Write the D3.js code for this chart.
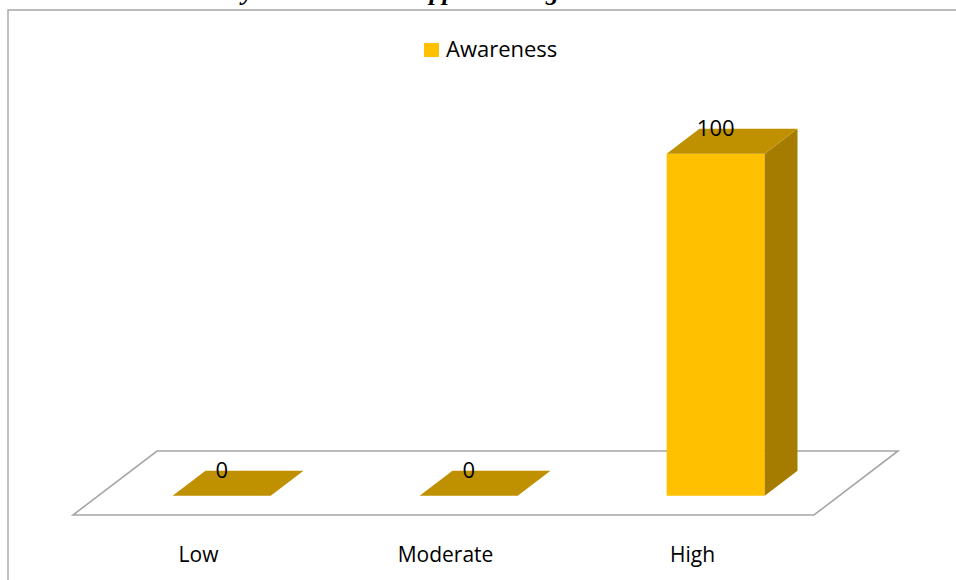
<!DOCTYPE html>
<html>
<head>
<meta charset="utf-8">
<script src="https://cdn.jsdelivr.net/npm/d3@7/dist/d3.min.js"></script>
<style>
  html, body { margin: 0; padding: 0; background: #ffffff; }
  svg { display: block; }
</style>
</head>
<body>
<svg id="chart" width="956" height="580"></svg>
<script>
// Awareness level by category
const categories = ["Low", "Moderate", "High"];
const awareness = [0, 0, 100];
const seriesName = "Awareness";
const titleText = "Study Awareness on Apps Sharing";

const W = 956, H = 580;
const svg = d3.select("#chart");

const colors = {
  front: "#FFC000",
  top: "#BF9000",
  side: "#A57C00",
  floor: "#A6A6A6",
  frame: "#A6A6A6"
};

// Floor geometry (front edge and depth offset of the 3D floor)
const floorFrontY = 515;
const floorLeft = 73, floorRight = 814;
const depthDX = 84, depthDY = -64;
const barDepthFront = 0.3, barDepthBack = 0.69;

const x = d3.scaleBand().domain(categories).range([floorLeft, floorRight]).padding(0);
const barWidth = x.bandwidth() * 0.397;
const h = d3.scaleLinear().domain([0, 100]).range([0, 342]);

// project floor x, value and depth fraction to screen coordinates
function proj(px, v, d) {
  return [px + d * depthDX, floorFrontY + d * depthDY - h(v)];
}

// Title line (runs above the top edge of the page)
const title = svg.append("text")
  .attr("y", 0)
  .attr("font-family", "Liberation Serif, Times New Roman, serif")
  .attr("font-style", "italic")
  .attr("font-weight", "bold")
  .attr("font-size", 26)
  .attr("fill", "#000")
  .text(titleText);
const yIdx = titleText.indexOf("y");
const yPos = title.node().getStartPositionOfChar(yIdx).x;
title.attr("x", 242 - yPos);

// Frame
svg.append("path")
  .attr("d", `M8,${H + 2} L8,10 L${W + 2},10`)
  .attr("fill", "none")
  .attr("stroke", colors.frame)
  .attr("stroke-width", 1.4);

// Floor
const fl = [
  [floorLeft, floorFrontY],
  [floorRight, floorFrontY],
  [floorRight + depthDX, floorFrontY + depthDY],
  [floorLeft + depthDX, floorFrontY + depthDY]
];
svg.append("path")
  .attr("d", d3.line()(fl) + "Z")
  .attr("fill", "#ffffff")
  .attr("stroke", colors.floor)
  .attr("stroke-width", 1.6);

// Bars
const data = categories.map((c, i) => ({ c, v: awareness[i] }));
const bars = svg.append("g").selectAll("g").data(data).join("g");

bars.each(function (d) {
  const g = d3.select(this);
  const x0 = x(d.c) + (x.bandwidth() - barWidth) / 2;
  const x1 = x0 + barWidth;
  const line = d3.line();
  if (d.v > 0) {
    // front face
    g.append("path")
      .attr("d", line([proj(x0, 0, barDepthFront), proj(x1, 0, barDepthFront),
                       proj(x1, d.v, barDepthFront), proj(x0, d.v, barDepthFront)]) + "Z")
      .attr("fill", colors.front);
    // right side face
    g.append("path")
      .attr("d", line([proj(x1, 0, barDepthFront), proj(x1, 0, barDepthBack),
                       proj(x1, d.v, barDepthBack), proj(x1, d.v, barDepthFront)]) + "Z")
      .attr("fill", colors.side);
  }
  // top face
  g.append("path")
    .attr("d", line([proj(x0, d.v, barDepthFront), proj(x1, d.v, barDepthFront),
                     proj(x1, d.v, barDepthBack), proj(x0, d.v, barDepthBack)]) + "Z")
    .attr("fill", colors.top);
});

// Value labels
bars.append("text")
  .attr("x", d => proj(x(d.c) + x.bandwidth() / 2, d.v, barDepthFront)[0])
  .attr("y", d => proj(0, d.v, barDepthBack)[1] + 7)
  .attr("text-anchor", "middle")
  .attr("font-family", "Open Sans, sans-serif")
  .attr("font-size", 22)
  .attr("fill", "#000")
  .text(d => d.v);

// Category labels
svg.append("g").selectAll("text").data(categories).join("text")
  .attr("x", d => x(d) + x.bandwidth() / 2 + 2)
  .attr("y", 562)
  .attr("text-anchor", "middle")
  .attr("font-family", "Open Sans, sans-serif")
  .attr("font-size", 21)
  .attr("fill", "#000")
  .text(d => d);

// Legend
const legend = svg.append("g");
legend.append("rect")
  .attr("x", 424).attr("y", 43).attr("width", 15).attr("height", 14)
  .attr("fill", colors.front);
legend.append("text")
  .attr("x", 446).attr("y", 57)
  .attr("font-family", "Open Sans, sans-serif")
  .attr("font-size", 22)
  .attr("fill", "#000")
  .text(seriesName);
</script>
</body>
</html>
